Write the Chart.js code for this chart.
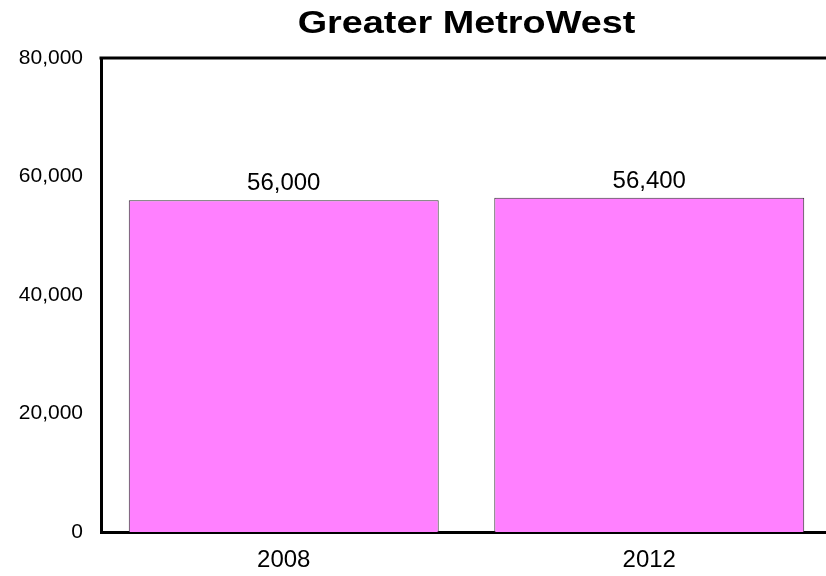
<!DOCTYPE html>
<html>
<head>
<meta charset="utf-8">
<script src="https://cdn.jsdelivr.net/npm/chart.js@4"></script>
<style>
  html, body { margin: 0; padding: 0; background: #fff; overflow: hidden; }
  #wrap { width: 826px; height: 576px; overflow: hidden; }
</style>
</head>
<body>
<!-- the plot runs a few pixels past the right edge in the original, so the canvas is wider and clipped -->
<div id="wrap"><canvas id="chart" width="832" height="576"></canvas></div>
<script>
var years = ["2008", "2012"];
var jobs = [56000, 56400];
var chartTitle = "Greater MetroWest";

var FONT = "'Liberation Sans', Arial, sans-serif";

function fmt(v) {
  return v.toLocaleString("en-US");
}

// Frame top line, title centred over the plot and value labels above bars.
var decor = {
  id: "decor",
  afterDraw: function (chart) {
    var ctx = chart.ctx;
    var a = chart.chartArea;
    ctx.save();
    ctx.strokeStyle = "#000";
    ctx.lineWidth = 3;
    ctx.beginPath();
    ctx.moveTo(a.left - 1.5, a.top);
    ctx.lineTo(chart.width, a.top);
    ctx.stroke();

    ctx.fillStyle = "#000";
    ctx.textAlign = "center";
    ctx.textBaseline = "alphabetic";

    // title is drawn a little wide, as in the original
    ctx.save();
    ctx.translate(466.5, 33);
    ctx.scale(1.22, 1);
    ctx.font = "bold 31px " + FONT;
    ctx.fillText(chartTitle, 0, 0);
    ctx.restore();

    ctx.font = "24px " + FONT;
    var meta = chart.getDatasetMeta(0);
    meta.data.forEach(function (bar, i) {
      ctx.fillText(fmt(jobs[i]), bar.x, bar.y - 10);
    });
    ctx.restore();
  }
};

new Chart(document.getElementById("chart"), {
  type: "bar",
  data: {
    labels: years,
    datasets: [{
      data: jobs,
      backgroundColor: "#FF80FF",
      borderColor: "#333333",
      borderWidth: 1,
      barPercentage: 0.848,
      categoryPercentage: 1
    }]
  },
  options: {
    responsive: false,
    animation: false,
    layout: { padding: { top: 58, right: 0, left: 0, bottom: 0 } },
    plugins: {
      legend: { display: false },
      tooltip: { enabled: false },
      title: { display: false }
    },
    scales: {
      x: {
        grid: { display: false, drawTicks: false },
        border: { color: "#000", width: 3 },
        ticks: { color: "#000", font: { family: FONT, size: 24 }, padding: 14 },
        afterFit: function (s) { s.height = 44; }
      },
      y: {
        min: 0,
        max: 80000,
        grid: { display: false, drawTicks: false },
        border: { color: "#000", width: 3 },
        ticks: {
          stepSize: 20000,
          color: "#000",
          font: { family: FONT, size: 21 },
          padding: 18,
          callback: function (v) { return fmt(v); }
        },
        afterFit: function (s) { s.width = 101; }
      }
    }
  },
  plugins: [decor]
});
</script>
</body>
</html>
